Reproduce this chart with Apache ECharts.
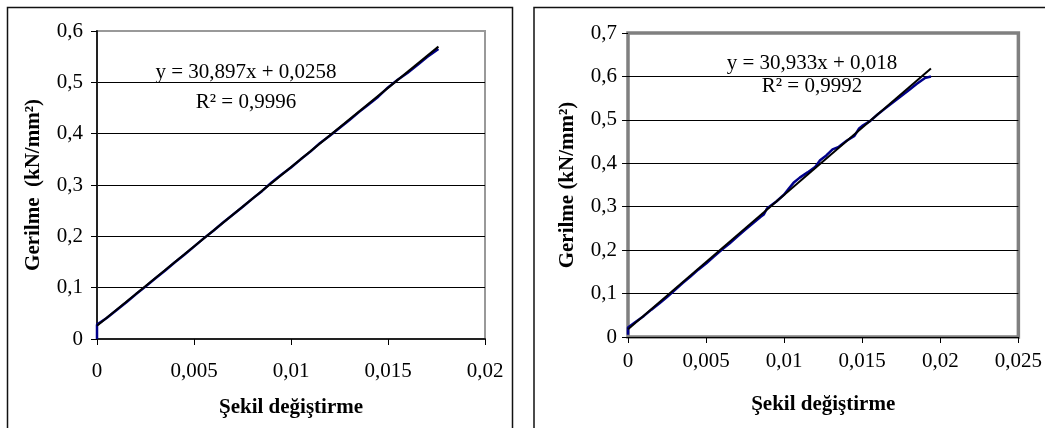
<!DOCTYPE html>
<html><head><meta charset="utf-8">
<script src="https://cdn.jsdelivr.net/npm/echarts@6/dist/echarts.min.js"></script>
<style>html,body{margin:0;padding:0;background:#fff}#c{width:1045px;height:428px}</style>
</head><body><div id="c"></div>
<script>
// Left chart data
const leftX = [0, 0, 0.0005, 0.001, 0.0015, 0.002, 0.0025, 0.003, 0.0035, 0.004, 0.0045, 0.005, 0.0055, 0.006, 0.0065, 0.007, 0.0075, 0.008, 0.0085, 0.009, 0.0095, 0.01, 0.0105, 0.011, 0.0115, 0.012, 0.0125, 0.013, 0.0135, 0.014, 0.0145, 0.015, 0.0155, 0.016, 0.0165, 0.017, 0.0176];
const leftY = [0, 0.028, 0.041, 0.056, 0.071, 0.087, 0.102, 0.118, 0.133, 0.149, 0.164, 0.180, 0.196, 0.211, 0.227, 0.242, 0.257, 0.273, 0.288, 0.305, 0.320, 0.334, 0.350, 0.365, 0.382, 0.396, 0.411, 0.426, 0.442, 0.457, 0.472, 0.490, 0.505, 0.518, 0.533, 0.549, 0.565];
const leftTrendX = [0, 0.0176];
const leftTrendY = [0.0258, 0.5696];
const leftEq = 'y = 30,897x + 0,0258';
const leftR2 = 'R² = 0,9996';

// Right chart data
const rightX = [0, 0, 0.0005, 0.001, 0.0015, 0.002, 0.0025, 0.003, 0.0035, 0.004, 0.0045, 0.005, 0.0055, 0.006, 0.0065, 0.007, 0.0075, 0.008, 0.0085, 0.0087, 0.0089, 0.0095, 0.01, 0.0103, 0.0106, 0.011, 0.0115, 0.012, 0.0123, 0.0127, 0.0131, 0.0135, 0.014, 0.0145, 0.0148, 0.015, 0.0155, 0.016, 0.0165, 0.017, 0.0175, 0.018, 0.0185, 0.019, 0.0194];
const rightY = [0.005, 0.022, 0.035, 0.048, 0.063, 0.077, 0.092, 0.108, 0.124, 0.139, 0.155, 0.169, 0.185, 0.201, 0.215, 0.231, 0.247, 0.262, 0.277, 0.282, 0.296, 0.312, 0.328, 0.342, 0.355, 0.367, 0.379, 0.392, 0.407, 0.418, 0.432, 0.438, 0.452, 0.463, 0.480, 0.486, 0.497, 0.513, 0.527, 0.541, 0.555, 0.569, 0.583, 0.596, 0.600];
const rightTrendX = [0, 0.0194];
const rightTrendY = [0.018, 0.618];
const rightEq = 'y = 30,933x + 0,018';
const rightR2 = 'R² = 0,9992';

const xTitle = 'Şekil değiştirme';
const yTitleLeft = 'Gerilme  (kN/mm²)';
const yTitleRight = 'Gerilme (kN/mm²)';

const FONT = '"Liberation Serif", "Times New Roman", serif';
const fmt = v => String(+v.toFixed(4)).replace('.', ',');
const zip = (a, b) => a.map((v, i) => [v, b[i]]);

const chart = echarts.init(document.getElementById('c'), null, {renderer: 'canvas'});

function xAxisCfg(gi, max, margin, gap, lineShow) {
  return {
    type: 'value', gridIndex: gi, min: 0, max: max, interval: 0.005,
    name: xTitle, nameLocation: 'middle', nameGap: gap,
    nameTextStyle: {fontFamily: FONT, fontSize: 21, fontWeight: 'bold', color: '#000'},
    axisLine: {show: lineShow, onZero: false, lineStyle: {color: '#222', width: 2}},
    axisTick: {show: true, length: 6, lineStyle: {color: '#000', width: 1}},
    axisLabel: {formatter: fmt, fontFamily: FONT, fontSize: 21, color: '#000', margin: margin},
    splitLine: {show: false}
  };
}
function yAxisCfg(gi, max, name, gap, lineShow, margin) {
  const n = Math.round(max / 0.1) + 1;
  const cols = [];
  for (let i = 0; i < n; i++) cols.push(i === n - 1 ? 'rgba(0,0,0,0)' : '#000');
  return {
    type: 'value', gridIndex: gi, min: 0, max: max, interval: 0.1,
    name: name, nameLocation: 'middle', nameGap: gap, nameRotate: 90,
    nameTextStyle: {fontFamily: FONT, fontSize: 21, fontWeight: 'bold', color: '#000'},
    axisLine: {show: lineShow, onZero: false, lineStyle: {color: '#222', width: 2}},
    axisTick: {show: true, length: 6, lineStyle: {color: '#000', width: 1}},
    axisLabel: {formatter: fmt, fontFamily: FONT, fontSize: 21, color: '#000', margin: margin},
    splitLine: {show: true, lineStyle: {color: cols, width: 1}}
  };
}

const option = {
  animation: false,
  backgroundColor: '#fff',
  grid: [
    {left: 97, top: 31, right: 560, bottom: 89, show: true, borderColor: '#999', borderWidth: 2, backgroundColor: '#fff'},
    {left: 628, top: 33, right: 26, bottom: 91, show: true, borderColor: '#808080', borderWidth: 3.5, backgroundColor: '#fff'}
  ],
  xAxis: [xAxisCfg(0, 0.02, 22, 58, true), xAxisCfg(1, 0.025, 14, 57, false)],
  yAxis: [yAxisCfg(0, 0.6, yTitleLeft, 53, true, 14), yAxisCfg(1, 0.7, yTitleRight, 50, false, 11)],
  series: [
    {type: 'line', xAxisIndex: 0, yAxisIndex: 0, data: zip(leftX, leftY), showSymbol: false, symbol: 'none', lineStyle: {color: '#00008b', width: 2.5}, z: 3},
    {type: 'line', xAxisIndex: 0, yAxisIndex: 0, data: zip(leftTrendX, leftTrendY), showSymbol: false, symbol: 'none', lineStyle: {color: '#000', width: 2}, z: 4},
    {type: 'line', xAxisIndex: 1, yAxisIndex: 1, data: zip(rightX, rightY), showSymbol: false, symbol: 'none', lineStyle: {color: '#00008b', width: 2.5}, z: 3},
    {type: 'line', xAxisIndex: 1, yAxisIndex: 1, data: zip(rightTrendX, rightTrendY), showSymbol: false, symbol: 'none', lineStyle: {color: '#000', width: 2}, z: 4}
  ],
  graphic: [
    {type: 'rect', shape: {x: 7.5, y: 7.5, width: 505, height: 440}, style: {fill: 'none', stroke: '#111', lineWidth: 1.5}, z: 10, silent: true},
    {type: 'rect', shape: {x: 534, y: 7.5, width: 520, height: 440}, style: {fill: 'none', stroke: '#111', lineWidth: 1.5}, z: 10, silent: true},
    {type: 'text', x: 246, y: 72, style: {text: leftEq, fontFamily: FONT, fontSize: 21, fill: '#000', align: 'center', verticalAlign: 'middle'}, z: 10},
    {type: 'text', x: 246, y: 102, style: {text: leftR2, fontFamily: FONT, fontSize: 21, fill: '#000', align: 'center', verticalAlign: 'middle'}, z: 10},
    {type: 'text', x: 812, y: 63, style: {text: rightEq, fontFamily: FONT, fontSize: 21, fill: '#000', align: 'center', verticalAlign: 'middle'}, z: 10},
    {type: 'text', x: 812, y: 86, style: {text: rightR2, fontFamily: FONT, fontSize: 21, fill: '#000', align: 'center', verticalAlign: 'middle'}, z: 10}
  ]
};
chart.setOption(option);
</script>
</body></html>
